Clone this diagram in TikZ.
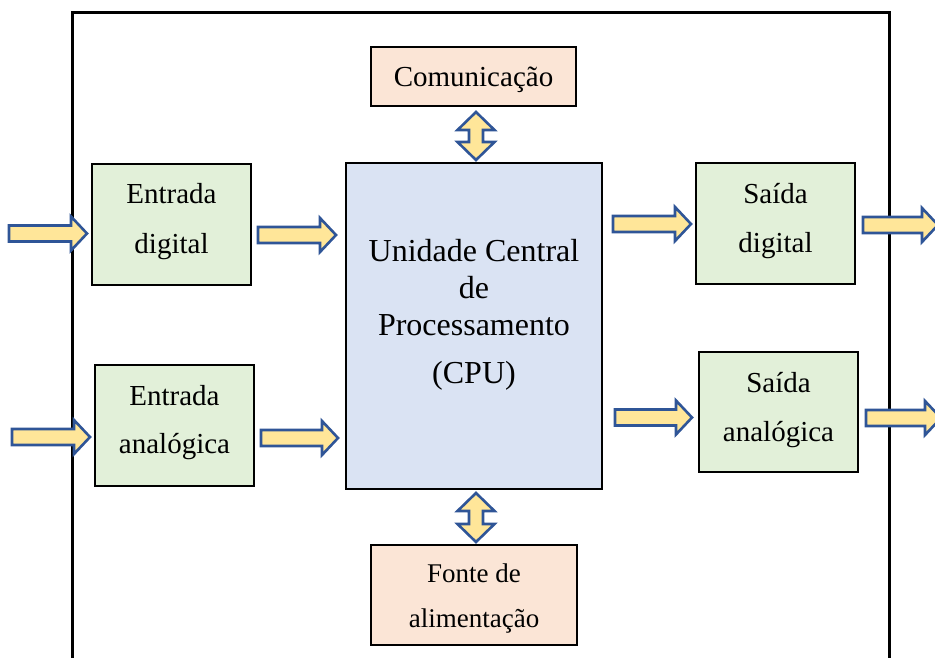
\documentclass[tikz,border=0pt]{standalone}
\usepackage{fontspec}
\setmainfont{Liberation Serif}
\usetikzlibrary{calc}

\definecolor{peach}{HTML}{FBE5D6}
\definecolor{mint}{HTML}{E2F0D9}
\definecolor{paleblue}{HTML}{DAE3F3}
\definecolor{arrowfill}{HTML}{FFE699}
\definecolor{arrowedge}{HTML}{2F5597}

\tikzset{
  frameline/.style={line width=3pt, draw=black},
  box/.style={draw=black, line width=2.6pt, rectangle, inner sep=0pt},
  peachbox/.style={box, fill=peach},
  greenbox/.style={box, fill=mint},
  cpubox/.style={box, fill=paleblue},
  label/.style={align=center, inner sep=0pt, anchor=north},
  blockarrow/.style={draw=arrowedge, fill=arrowfill, line width=2.6pt, line join=miter},
  % right-pointing block arrow, origin at the tail centre, #1 = length
  pics/rarrow/.style={code={
    \draw[blockarrow] (0,-8) -- ({#1-16},-8) -- ({#1-16},-17) -- (#1,0)
      -- ({#1-16},17) -- ({#1-16},8) -- (0,8) -- cycle;
  }},
  % vertical double block arrow, origin at the upper tip, #1 = length
  pics/udarrow/.style={code={
    \draw[blockarrow] (0,0) -- (18.5,18) -- (7,18) -- (7,{#1-18}) -- (18.5,{#1-18})
      -- (0,#1) -- (-18.5,{#1-18}) -- (-7,{#1-18}) -- (-7,18) -- (-18.5,18) -- cycle;
  }}
}

\begin{document}
\begin{tikzpicture}[x=1pt, y=-1pt]
  \useasboundingbox (0,0) rectangle (935,657);

  % outer enclosure (open at the bottom)
  \draw[frameline] (72,662) -- (72,12) -- (889,12) -- (889,662);

  % blocks
  \node[peachbox, minimum width=205pt, minimum height=59pt] (com) at (473.5,76.5) {};
  \node[cpubox, minimum width=256pt, minimum height=326pt] (cpu) at (474,326) {};
  \node[greenbox, minimum width=159pt, minimum height=121pt] (ed) at (171.5,224.5) {};
  \node[greenbox, minimum width=159pt, minimum height=121pt] (ea) at (174.5,425.5) {};
  \node[greenbox, minimum width=159pt, minimum height=121pt] (sd) at (775.5,223.5) {};
  \node[greenbox, minimum width=159pt, minimum height=120pt] (sa) at (778.5,412) {};
  \node[peachbox, minimum width=206pt, minimum height=100pt] (fa) at (474,595) {};

  % block texts
  \node[anchor=base, inner sep=0pt, font=\fontsize{29}{34}\selectfont] (comt) at (473.5,86) {Comunicação};
  \node[label, font=\fontsize{32}{37}\selectfont] (cput) at (474,239.2)
    {Unidade Central\\de\\Processamento\\[11pt](CPU)};
  \node[label, font=\fontsize{29}{50}\selectfont] (edt) at (171.5,183.2) {Entrada\\digital};
  \node[label, font=\fontsize{29}{48}\selectfont] (eat) at (174.5,385.2) {Entrada\\analógica};
  \node[label, font=\fontsize{29}{49}\selectfont] (sdt) at (775.5,183.3) {Saída\\digital};
  \node[label, font=\fontsize{29}{49}\selectfont] (sat) at (778.5,372.3) {Saída\\analógica};
  \node[label, font=\fontsize{27}{45}\selectfont] (fat) at (474,563.5) {Fonte de\\alimentação};

  % signal flow arrows
  \pic (inD)   at (9,233.5)  {rarrow=78};
  \pic (edcpu) at (258,235)  {rarrow=78};
  \pic (inA)   at (12,437)   {rarrow=78};
  \pic (eacpu) at (261,438)  {rarrow=77};
  \pic (cpusd) at (613,224)  {rarrow=78};
  \pic (cpusa) at (615,417.5){rarrow=77};
  \pic (outD)  at (863,225)  {rarrow=75};
  \pic (outA)  at (866,418)  {rarrow=75};

  % bidirectional links to the CPU
  \pic (comcpu) at (476,112) {udarrow=48};
  \pic (cpufa)  at (476,493) {udarrow=49};
\end{tikzpicture}
\end{document}
